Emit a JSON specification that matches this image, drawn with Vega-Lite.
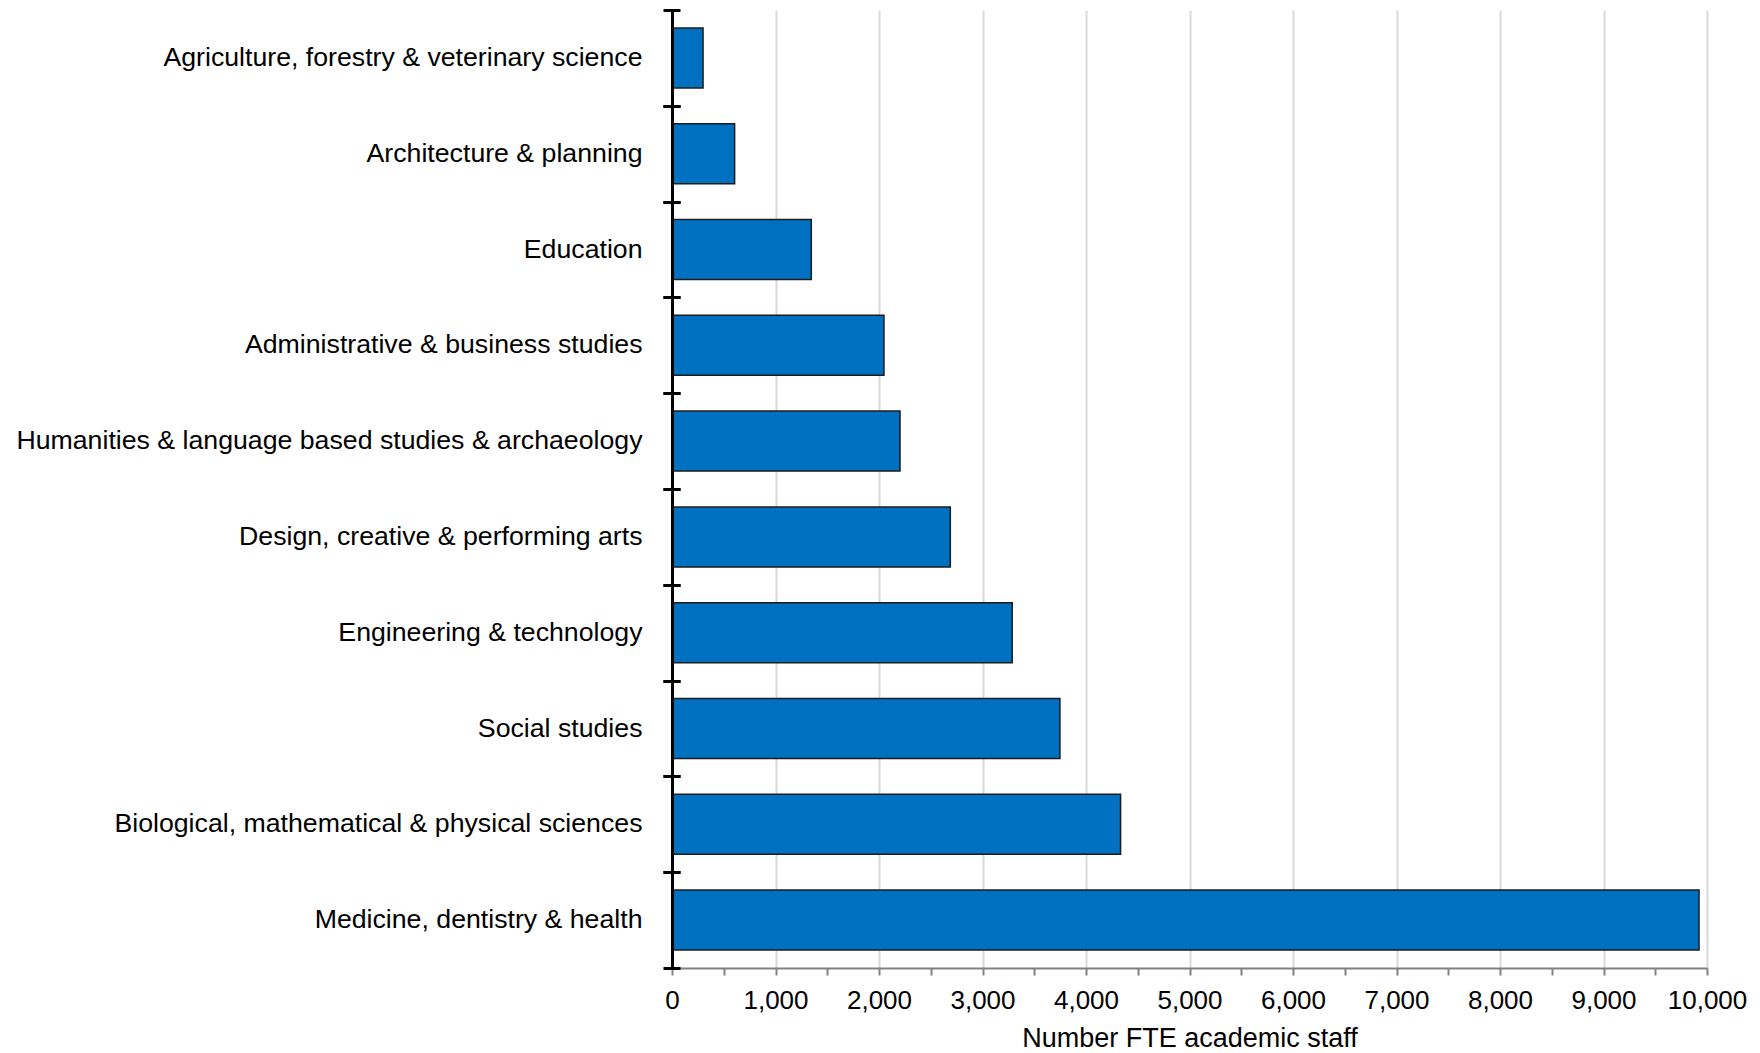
{
  "$schema": "https://vega.github.io/schema/vega-lite/v6.json",
  "width": 1035,
  "height": 958,
  "autosize": {"type": "none"},
  "padding": {"left": 672, "top": 10, "right": 53, "bottom": 85},
  "background": "white",
  "config": {
    "view": {"stroke": null},
    "font": "Liberation Sans",
    "axis": {"labelFont": "Liberation Sans", "titleFont": "Liberation Sans"}
  },
  "data": {
    "values": [
      {"subject": "Agriculture, forestry & veterinary science", "staff": 300},
      {"subject": "Architecture & planning", "staff": 605},
      {"subject": "Education", "staff": 1346},
      {"subject": "Administrative & business studies", "staff": 2048},
      {"subject": "Humanities & language based studies & archaeology", "staff": 2203},
      {"subject": "Design, creative & performing arts", "staff": 2689},
      {"subject": "Engineering & technology", "staff": 3287},
      {"subject": "Social studies", "staff": 3748},
      {"subject": "Biological, mathematical & physical sciences", "staff": 4334},
      {"subject": "Medicine, dentistry & health", "staff": 9923}
    ]
  },
  "resolve": {"scale": {"y": "independent"}, "axis": {"y": "independent"}},
  "layer": [
    {
      "mark": {"type": "bar", "fill": "#0070C0", "stroke": "#1c1c1c", "strokeWidth": 1.5},
      "encoding": {
        "y": {
          "field": "subject",
          "type": "nominal",
          "sort": null,
          "scale": {"paddingInner": 0.374, "paddingOuter": 0.187},
          "axis": {
            "orient": "left",
            "title": null,
            "domainColor": "#000000",
            "domainWidth": 3,
            "tickOpacity": 0,
            "tickSize": 9,
            "labelPadding": 21,
            "labelFontSize": 26.7,
            "labelColor": "#000000",
            "labelLimit": 1000,
            "grid": false,
            "zindex": 1
          }
        },
        "x": {
          "field": "staff",
          "type": "quantitative",
          "scale": {"domain": [0, 10000], "nice": false},
          "axis": {
            "title": "Number FTE academic staff",
            "titleFontSize": 27,
            "titleFontWeight": "normal",
            "titleColor": "#000000",
            "titlePadding": 12,
            "values": [0, 500, 1000, 1500, 2000, 2500, 3000, 3500, 4000, 4500, 5000, 5500, 6000, 6500, 7000, 7500, 8000, 8500, 9000, 9500, 10000],
            "labelExpr": "datum.value % 1000 === 0 ? format(datum.value, ',d') : ''",
            "labelFontSize": 26,
            "labelColor": "#000000",
            "labelPadding": 12,
            "labelFlush": false,
            "labelOverlap": false,
            "domainColor": "#808080",
            "domainWidth": 2,
            "tickColor": "#808080",
            "tickWidth": 2,
            "tickSize": 7,
            "grid": true,
            "gridWidth": 2,
            "gridColor": {"condition": {"test": "datum.value % 1000 !== 0", "value": "transparent"}, "value": "#d9d9d9"}
          }
        }
      }
    },
    {
      "mark": {"type": "bar", "opacity": 0},
      "encoding": {
        "y": {
          "field": "subject",
          "type": "nominal",
          "sort": null,
          "scale": {"paddingInner": 0.374, "paddingOuter": 0.187},
          "axis": {
            "orient": "left",
            "title": null,
            "offset": -8,
            "tickOffset": -47.9,
            "domain": false,
            "labels": false,
            "tickColor": "#000000",
            "tickWidth": 3,
            "tickSize": 17,
            "grid": false,
            "zindex": 2
          }
        },
        "x": {"field": "staff", "type": "quantitative"}
      }
    },
    {
      "mark": {"type": "bar", "opacity": 0},
      "encoding": {
        "y": {
          "field": "subject",
          "type": "nominal",
          "sort": null,
          "scale": {"paddingInner": 0.374, "paddingOuter": 0.187},
          "axis": {
            "orient": "left",
            "title": null,
            "offset": -8,
            "tickOffset": 47.9,
            "domain": false,
            "labels": false,
            "tickColor": "#000000",
            "tickWidth": 3,
            "tickSize": 17,
            "grid": false,
            "zindex": 2
          }
        },
        "x": {"field": "staff", "type": "quantitative"}
      }
    }
  ]
}
